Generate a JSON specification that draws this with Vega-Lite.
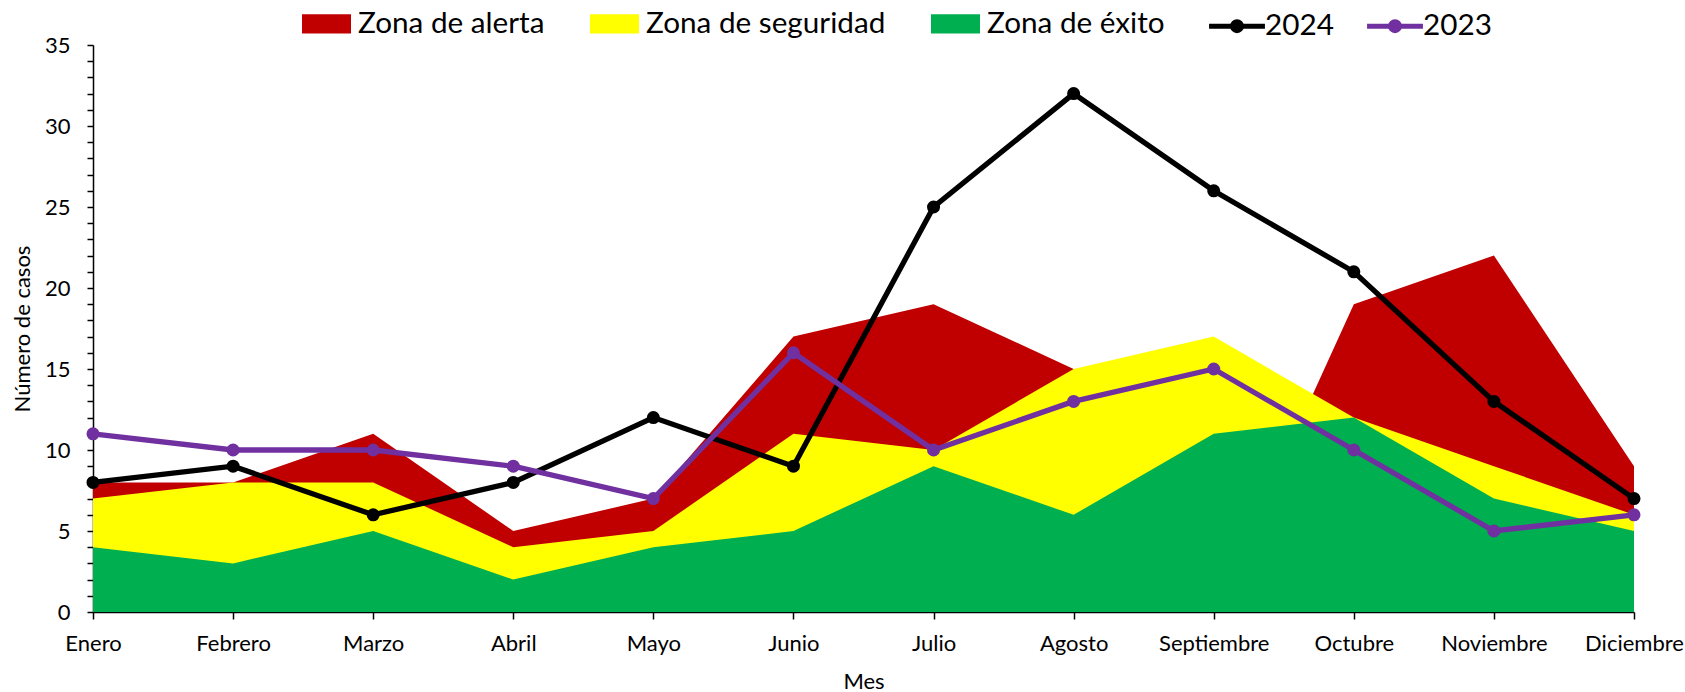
{
  "$schema": "https://vega.github.io/schema/vega-lite/v6.json",
  "width": 1541,
  "height": 567,
  "autosize": {"type": "none"},
  "padding": {"left": 93, "top": 45, "right": 51, "bottom": 80},
  "background": "white",
  "config": {"view": {"stroke": null}, "font": "Lato"},
  "data": {
    "values": [
      {"mes": "Enero", "alerta": 8, "seguridad": 7, "exito": 4, "y2024": 8, "y2023": 11},
      {"mes": "Febrero", "alerta": 8, "seguridad": 8, "exito": 3, "y2024": 9, "y2023": 10},
      {"mes": "Marzo", "alerta": 11, "seguridad": 8, "exito": 5, "y2024": 6, "y2023": 10},
      {"mes": "Abril", "alerta": 5, "seguridad": 4, "exito": 2, "y2024": 8, "y2023": 9},
      {"mes": "Mayo", "alerta": 7, "seguridad": 5, "exito": 4, "y2024": 12, "y2023": 7},
      {"mes": "Junio", "alerta": 17, "seguridad": 11, "exito": 5, "y2024": 9, "y2023": 16},
      {"mes": "Julio", "alerta": 19, "seguridad": 10, "exito": 9, "y2024": 25, "y2023": 10},
      {"mes": "Agosto", "alerta": 15, "seguridad": 15, "exito": 6, "y2024": 32, "y2023": 13},
      {"mes": "Septiembre", "alerta": 0, "seguridad": 17, "exito": 11, "y2024": 26, "y2023": 15},
      {"mes": "Octubre", "alerta": 19, "seguridad": 12, "exito": 12, "y2024": 21, "y2023": 10},
      {"mes": "Noviembre", "alerta": 22, "seguridad": 9, "exito": 7, "y2024": 13, "y2023": 5},
      {"mes": "Diciembre", "alerta": 9, "seguridad": 6, "exito": 5, "y2024": 7, "y2023": 6}
    ]
  },
  "transform": [
    {"fold": ["alerta", "seguridad", "exito", "y2024", "y2023"], "as": ["serie", "valor"]}
  ],
  "encoding": {
    "x": {
      "field": "mes",
      "type": "ordinal",
      "sort": ["Enero", "Febrero", "Marzo", "Abril", "Mayo", "Junio", "Julio", "Agosto", "Septiembre", "Octubre", "Noviembre", "Diciembre"],
      "scale": {"type": "point", "padding": 0},
      "title": "Mes",
      "axis": {
        "labelAngle": 0,
        "labelFontSize": 22,
        "labelColor": "black",
        "labelPadding": 14,
        "labelOverlap": false,
        "labelFlush": false,
        "domainColor": "black",
        "domainWidth": 1.5,
        "tickColor": "black",
        "tickWidth": 1.5,
        "tickSize": 7,
        "titleFontSize": 22,
        "titleFontWeight": "normal",
        "titleColor": "black",
        "titlePadding": 17
      }
    },
    "y": {
      "field": "valor",
      "type": "quantitative",
      "stack": null,
      "title": "Número de casos",
      "scale": {"domain": [0, 35], "nice": false, "zero": true},
      "axis": {
        "values": [0,1,2,3,4,5,6,7,8,9,10,11,12,13,14,15,16,17,18,19,20,21,22,23,24,25,26,27,28,29,30,31,32,33,34,35],
        "labelExpr": "datum.value % 5 === 0 ? datum.label : ''",
        "labelOverlap": false,
        "labelFlush": false,
        "labelBound": false,
        "grid": false,
        "domainColor": "black",
        "domainWidth": 1.5,
        "tickColor": "black",
        "tickWidth": 1.5,
        "tickSize": 6,
        "labelColor": "black",
        "labelFontSize": 22,
        "labelPadding": 17,
        "titleFontSize": 22,
        "titleFontWeight": "normal",
        "titleColor": "black",
        "titlePadding": 10
      }
    }
  },
  "layer": [
    {
      "transform": [{"filter": "datum.serie === 'alerta'"}],
      "mark": {"type": "area", "opacity": 1},
      "encoding": {
        "fill": {
          "datum": "Zona de alerta",
          "scale": {
            "domain": ["Zona de alerta", "Zona de seguridad", "Zona de éxito"],
            "range": ["#C00000", "#FFFF00", "#00B050"]
          },
          "legend": {
            "orient": "none",
            "legendX": 209,
            "legendY": -46,
            "direction": "horizontal",
            "columns": 3,
            "title": null,
            "padding": 0,
            "labelFont": "Lato",
            "labelFontSize": 29.7,
            "labelColor": "black",
            "labelLimit": 500,
            "symbolType": "M-1,-0.39H1V0.39H-1Z",
            "symbolSize": 2401,
            "symbolStrokeWidth": 0,
            "symbolOpacity": 1,
            "labelOffset": 7,
            "columnPadding": 45
          }
        }
      }
    },
    {
      "transform": [{"filter": "datum.serie === 'seguridad'"}],
      "mark": {"type": "area", "opacity": 1},
      "encoding": {"fill": {"datum": "Zona de seguridad"}}
    },
    {
      "transform": [{"filter": "datum.serie === 'exito'"}],
      "mark": {"type": "area", "opacity": 1},
      "encoding": {"fill": {"datum": "Zona de éxito"}}
    },
    {
      "transform": [{"filter": "datum.serie === 'y2024'"}],
      "mark": {"type": "line", "strokeWidth": 5.3},
      "encoding": {
        "stroke": {
          "datum": "2024",
          "scale": {"domain": ["2024", "2023"], "range": ["#000000", "#7030A0"]},
          "legend": {
            "orient": "none",
            "legendX": 1117,
            "legendY": -46,
            "direction": "horizontal",
            "columns": 2,
            "title": null,
            "padding": 0,
            "labelFont": "Lato",
            "labelFontSize": 29.7,
            "labelColor": "black",
            "labelLimit": 500,
            "symbolType": "M-1.14,0H1.14M0.184,0A0.184,0.184,0,1,1,-0.184,0A0.184,0.184,0,1,1,0.184,0M0.1,0A0.1,0.1,0,1,1,-0.1,0A0.1,0.1,0,1,1,0.1,0",
            "symbolSize": 2401,
            "symbolStrokeWidth": 5,
            "symbolOpacity": 1,
            "labelOffset": 1,
            "columnPadding": 23
          }
        }
      }
    },
    {
      "transform": [{"filter": "datum.serie === 'y2024'"}],
      "mark": {"type": "point", "filled": true, "size": 170, "opacity": 1, "color": "#000000"}
    },
    {
      "transform": [{"filter": "datum.serie === 'y2023'"}],
      "mark": {"type": "line", "strokeWidth": 5.3},
      "encoding": {"stroke": {"datum": "2023"}}
    },
    {
      "transform": [{"filter": "datum.serie === 'y2023'"}],
      "mark": {"type": "point", "filled": true, "size": 170, "opacity": 1, "color": "#7030A0"}
    }
  ]
}
